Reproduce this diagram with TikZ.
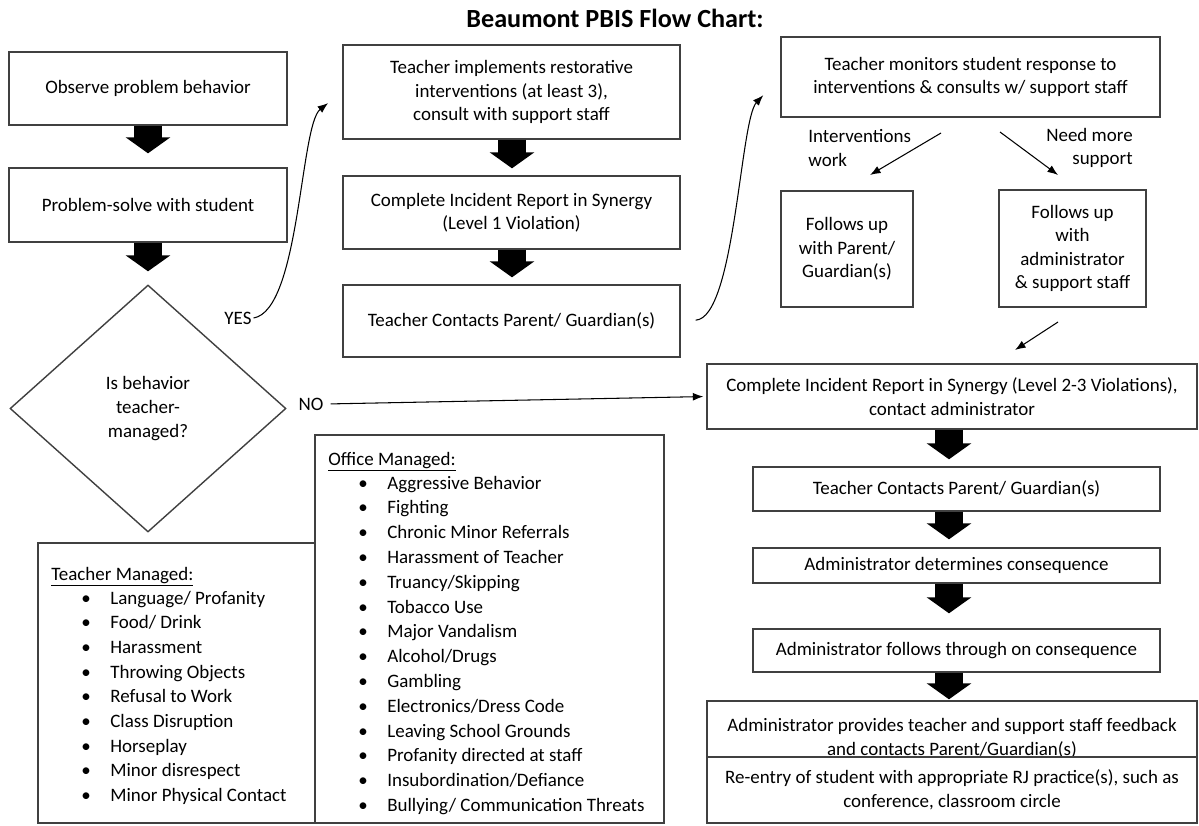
\documentclass[tikz,border=0pt]{standalone}
\usepackage{fontspec}
\setmainfont{Carlito}
\usetikzlibrary{shapes.geometric,arrows.meta}

\tikzset{
  box/.style={draw=black!75, line width=0.8pt, align=center, inner sep=0pt},
  bigarrow/.style={line width=0.56cm, -{Triangle[width=0.88cm,length=0.32cm]}},
  thinarrow/.style={line width=0.6pt, -{Latex[length=6pt,width=4.5pt]}},
  txt/.style={align=center, inner sep=1pt},
  item/.style={anchor=base west, inner sep=0pt},
}

\begin{document}
\begin{tikzpicture}[x=0.02cm, y=-0.02cm, font=\fontsize{10.8}{13.4}\selectfont]
\useasboundingbox (0,0) rectangle (1199,825);

\node[font=\bfseries\fontsize{14.9}{17}\selectfont] (title) at (615,18) {Beaumont PBIS Flow Chart:};

% left column
\node[box, minimum width=5.56cm, minimum height=1.46cm] (obs) at (148,88.5) {Observe problem behavior};
\node[box, minimum width=5.56cm, minimum height=1.48cm] (solve) at (148,205) {Problem-solve with student};
\node[box, diamond, minimum width=5.52cm, minimum height=4.94cm] (dec) at (148,408.5) {Is behavior\\teacher-\\managed?};
\node[txt] (yes) at (238,318) {YES};
\node[txt] (no) at (311,404) {NO};

% behaviour lists
\node[box, minimum width=5.54cm, minimum height=5.6cm] (tmbox) at (176.5,683) {};
\node[box, minimum width=6.98cm, minimum height=7.76cm] (ombox) at (489.5,629) {};
\node[item] (tmhead) at (51,580) {\underline{Teacher Managed:}};
\foreach \t [count=\i from 0] in {Language/ Profanity, Food/ Drink, Harassment, Throwing Objects,
    Refusal to Work, Class Disruption, Horseplay, Minor disrespect, Minor Physical Contact}
  \node[item] (tm\i) at (81,604+24.7*\i) {\makebox[0.58cm][l]{\textbullet}\t};
\node[item] (omhead) at (328,465) {\underline{Office Managed:}};
\foreach \t [count=\i from 0] in {Aggressive Behavior, Fighting, Chronic Minor Referrals,
    Harassment of Teacher, Truancy/Skipping, Tobacco Use, Major Vandalism, Alcohol/Drugs,
    Gambling, Electronics/Dress Code, Leaving School Grounds, Profanity directed at staff,
    Insubordination/Defiance, Bullying/ Communication Threats}
  \node[item] (om\i) at (358,489+24.8*\i) {\makebox[0.58cm][l]{\textbullet}\t};

% middle column
\node[box, minimum width=6.74cm, minimum height=1.88cm] (impl) at (511.5,92) {Teacher implements restorative\\interventions (at least 3),\\consult with support staff};
\node[box, minimum width=6.74cm, minimum height=1.46cm] (rep1) at (511.5,212.5) {Complete Incident Report in Synergy\\(Level 1 Violation)};
\node[box, minimum width=6.74cm, minimum height=1.44cm] (tcp) at (511.5,321) {Teacher Contacts Parent/ Guardian(s)};

% right column
\node[box, minimum width=7.58cm, minimum height=1.6cm] (mon) at (970.5,77) {Teacher monitors student response to\\interventions \& consults w/ support staff};
\node[anchor=west, align=left, inner sep=0pt] (work) at (808,148) {Interventions\\work};
\node[anchor=east, align=right, inner sep=0pt] (more) at (1133,148) {Need more\\support};
\node[box, minimum width=2.64cm, minimum height=2.32cm] (fpar) at (847,249) {Follows up\\with Parent/\\Guardian(s)};
\node[box, minimum width=2.94cm, minimum height=2.34cm] (fadm) at (1072.5,248.5) {Follows up\\with\\administrator\\\& support staff};
\node[box, minimum width=9.8cm, minimum height=1.3cm] (esc) at (952,396.5) {Complete Incident Report in Synergy (Level 2-3 Violations),\\contact administrator};
\node[box, minimum width=8.14cm, minimum height=0.88cm] (tcp2) at (956.5,489) {Teacher Contacts Parent/ Guardian(s)};
\node[box, minimum width=8.14cm, minimum height=0.7cm] (det) at (956.5,565.5) {Administrator determines consequence};
\node[box, minimum width=8.14cm, minimum height=0.86cm] (fol) at (956.5,650.5) {Administrator follows through on consequence};
\node[box, minimum width=9.8cm, minimum height=1.12cm] (fb) at (952,729) {};
\node[txt] (fbtext) at (952,738) {Administrator provides teacher and support staff feedback\\and contacts Parent/Guardian(s)};
\node[box, minimum width=9.8cm, minimum height=1.32cm] (rentry) at (952,790) {Re-entry of student with appropriate RJ practice(s), such as\\conference, classroom circle};

% free ends of the small arrows
\coordinate (m1) at (941,133);
\coordinate (m2) at (870,175);
\coordinate (m3) at (1000,132);
\coordinate (m4) at (1058,175);
\coordinate (a1) at (1058,322);
\coordinate (a2) at (1015,350);
\coordinate (lcol) at (148,0);
\coordinate (mcol) at (512,0);
\coordinate (rcol) at (949,0);

% block arrows
\foreach \a/\b/\c/\s in {obs/solve/lcol/0.28cm, solve/dec/lcol/0.26cm, impl/rep1/mcol/0.14cm,
    rep1/tcp/mcol/0.14cm, esc/tcp2/rcol/0.14cm, tcp2/det/rcol/0.16cm, det/fol/rcol/0.3cm,
    fol/fb/rcol/0.02cm}
  \draw[bigarrow, shorten >=\s] (\a.south -| \c) -- (\b.north -| \c);

% thin arrows
\draw[thinarrow, shorten >=0.36cm] (yes.east) .. controls (300,310) and (300,125) .. (impl.west);
\draw[thinarrow, shorten <=0.3cm, shorten >=0.5cm] (tcp.east) .. controls (735,318) and (740,120) .. (mon.west);
\draw[thinarrow, shorten <=0.1cm, shorten >=0.06cm] (no.east) -- (esc.west);
\draw[thinarrow] (m1) -- (m2);
\draw[thinarrow] (m3) -- (m4);
\draw[thinarrow] (a1) -- (a2);
\end{tikzpicture}
\end{document}
